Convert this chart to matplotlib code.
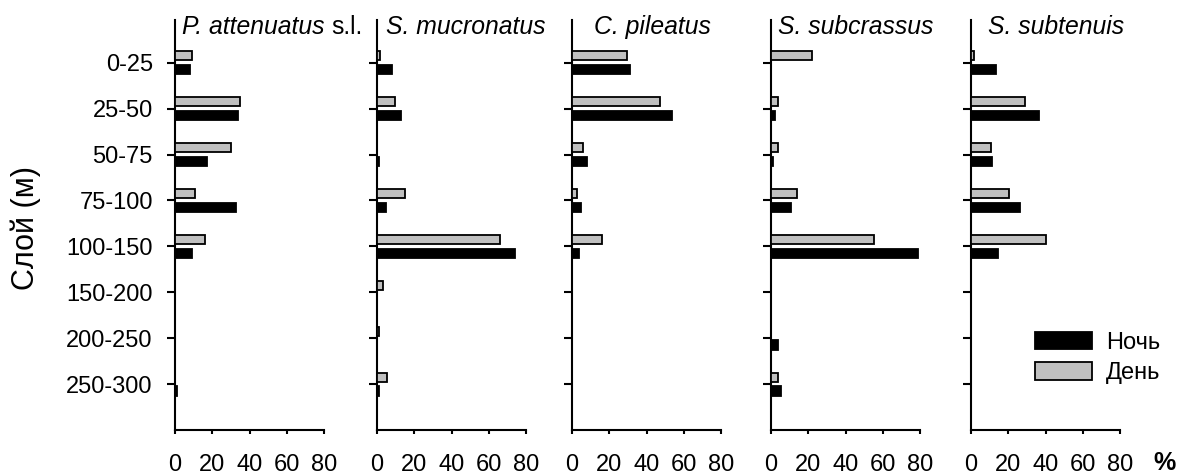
import matplotlib
matplotlib.use("Agg")
import matplotlib.pyplot as plt
from matplotlib.patches import Rectangle
import numpy as np

plt.rcParams['font.family'] = ['Liberation Sans', 'DejaVu Sans']

layers = ["0-25", "25-50", "50-75", "75-100", "100-150", "150-200", "200-250", "250-300"]
species = ["P. attenuatus", "S. mucronatus", "C. pileatus", "S. subcrassus", "S. subtenuis"]

# Night (Ночь) and Day (День) percentages per layer
night_attenuatus = [8, 34, 17, 33, 9, 0, 0, 1]
day_attenuatus = [9, 35, 30, 11, 16, 0, 0, 0]
night_mucronatus = [8, 13, 1, 5, 74, 0, 0, 1]
day_mucronatus = [1.5, 9.5, 0, 15, 66, 3, 1, 5.5]
night_pileatus = [31, 53.5, 8, 5, 4, 0, 0, 0]
day_pileatus = [29.5, 47, 6, 2.7, 16, 0, 0, 0]
night_subcrassus = [0, 2, 1, 11, 79, 0, 4, 5.5]
day_subcrassus = [22, 3.5, 3.5, 14, 55.5, 0, 0, 3.5]
night_subtenuis = [13.5, 36.5, 11.5, 26.5, 14.5, 0, 0, 0]
day_subtenuis = [1.5, 29, 10.5, 20.5, 40, 0, 0, 0]

night = [night_attenuatus, night_mucronatus, night_pileatus, night_subcrassus, night_subtenuis]
day = [day_attenuatus, day_mucronatus, day_pileatus, day_subcrassus, day_subtenuis]
xticks = [0, 20, 40, 60, 80]

W, H = 1180, 475
fig = plt.figure(figsize=(W / 100, H / 100), dpi=100)

lefts = [175, 377, 572, 771, 971]
axw = 149
top_px, bot_px = 20, 430
title_centers = [None, 466, 652, 856, 1056]

GREY = "#c0c0c0"
FS = 17
TFS = 17.8
y = np.arange(len(layers))
bh = 0.2
off = 0.15

axes = []
for i, lx in enumerate(lefts):
    ax = fig.add_axes([lx / W, 1 - bot_px / H, axw / W, (bot_px - top_px) / H])
    axes.append(ax)
    ax.barh(y - off, day[i], height=bh, color=GREY, edgecolor="black", linewidth=1.3, zorder=3)
    ax.barh(y + off, night[i], height=bh, color="black", edgecolor="black", linewidth=1.3, zorder=3)
    ax.set_xlim(0, 80)
    ax.set_ylim(8.0, -0.93)
    ax.set_xticks(xticks)
    ax.set_xticklabels([str(v) for v in xticks], fontsize=FS)
    ax.set_yticks(y)
    if i == 0:
        ax.set_yticklabels(layers, fontsize=FS)
    else:
        ax.set_yticklabels([])
    for s in ["top", "right"]:
        ax.spines[s].set_visible(False)
    for s in ["left", "bottom"]:
        ax.spines[s].set_linewidth(1.5)
    ax.tick_params(axis="y", direction="out", length=5.5, width=1.5, pad=10.5)
    ax.tick_params(axis="x", direction="out", length=3, width=1.5, pad=14)
    ax.set_facecolor("none")

# titles
base_y = 1 - 34 / H
fig.text(325 / W, base_y, "P. attenuatus", style="italic", fontsize=TFS, ha="right", va="baseline")
fig.text(331 / W, base_y, "s.l.", fontsize=TFS, ha="left", va="baseline")
for i in range(1, 5):
    fig.text(title_centers[i] / W, base_y, species[i], style="italic", fontsize=TFS,
             ha="center", va="baseline")

fig.text(26 / W, 1 - 228 / H, "Слой (м)", rotation=90, fontsize=22, ha="center", va="center")
fig.text(1165 / W, 1 - 463 / H, "%", fontsize=18, fontweight="bold", ha="center", va="center")

handles = [Rectangle((0, 0), 1, 1, facecolor="black", edgecolor="black", linewidth=1.3),
           Rectangle((0, 0), 1, 1, facecolor=GREY, edgecolor="black", linewidth=1.3)]
axes[4].legend(handles, ["Ночь", "День"], loc="upper left",
               bbox_to_anchor=((1035 - 971) / axw, (bot_px - 332) / (bot_px - top_px)),
               frameon=False, fontsize=FS, handlelength=2.4, handleheight=0.75,
               handletextpad=0.6, labelspacing=0.35, borderpad=0, borderaxespad=0)

fig.savefig("out.png", dpi=100)
